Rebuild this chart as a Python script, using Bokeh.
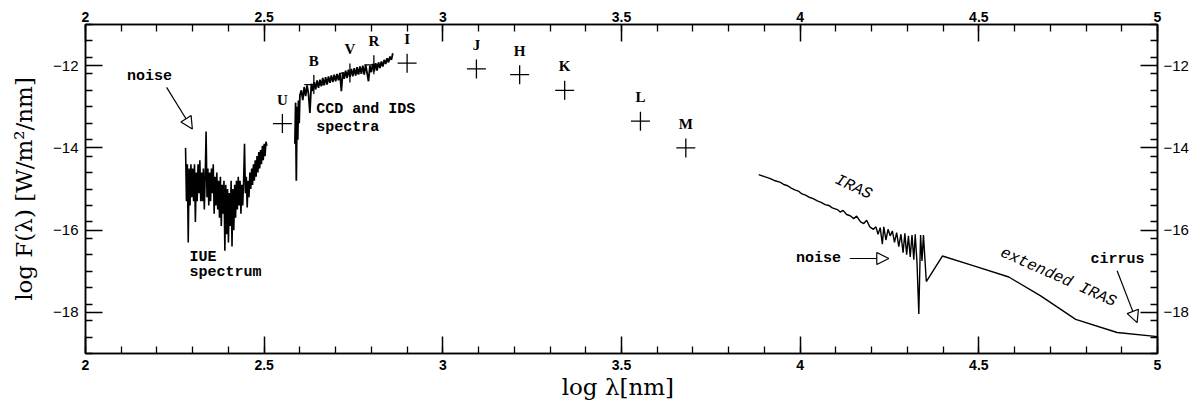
from bokeh.plotting import figure
from bokeh.models import (Range1d, LinearAxis, FixedTicker, CustomJSTickFormatter,
                          Arrow, NormalHead, ColumnDataSource)
from bokeh.core.properties import value
from bokeh.embed import file_html
from bokeh.resources import INLINE

# ---------------- data ----------------
band_names = ["U", "B", "V", "R", "I", "J", "H", "K", "L", "M"]
band_logl = [2.551, 2.639, 2.740, 2.807, 2.900, 3.094, 3.215, 3.341, 3.553, 3.680]
band_logf = [-13.41, -12.46, -12.18, -11.98, -11.94, -12.08, -12.22, -12.60, -13.35, -14.00]

iue_logl = [2.2800, 2.2825, 2.2850, 2.2875, 2.2900, 2.2925, 2.2950, 2.2975, 2.3000, 2.3025,
            2.3050, 2.3075, 2.3100, 2.3125, 2.3150, 2.3175, 2.3200, 2.3225, 2.3250, 2.3275,
            2.3300, 2.3325, 2.3350, 2.3375, 2.3400, 2.3425, 2.3450, 2.3475, 2.3500, 2.3525,
            2.3550, 2.3575, 2.3600, 2.3625, 2.3650, 2.3675, 2.3700, 2.3725, 2.3750, 2.3775,
            2.3800, 2.3825, 2.3850, 2.3875, 2.3900, 2.3925, 2.3950, 2.3975, 2.4000, 2.4025,
            2.4050, 2.4075, 2.4100, 2.4125, 2.4150, 2.4175, 2.4200, 2.4225, 2.4250, 2.4275,
            2.4300, 2.4325, 2.4350, 2.4375, 2.4400, 2.4425, 2.4450, 2.4475, 2.4500, 2.4525,
            2.4550, 2.4575, 2.4600, 2.4625, 2.4650, 2.4675, 2.4700, 2.4725, 2.4750, 2.4775,
            2.4800, 2.4825, 2.4850, 2.4875, 2.4900, 2.4925, 2.4950, 2.4975, 2.5000, 2.5025,
            2.5050, 2.5075]
iue_logf = [-14.0, -15.3, -14.4, -16.3, -14.5, -15.4, -14.4, -15.2, -14.5, -15.3,
            -14.4, -15.8, -14.6, -15.3, -14.4, -15.1, -14.3, -15.3, -14.6, -15.3,
            -14.5, -15.5, -14.7, -13.6, -15.2, -14.5, -15.4, -14.6, -15.3, -14.5,
            -15.1, -14.4, -15.6, -14.7, -15.4, -14.6, -15.5, -14.8, -15.7, -14.7,
            -15.9, -14.9, -15.6, -14.8, -16.5, -14.9, -16.1, -15.0, -16.3, -15.1,
            -15.9, -14.8, -16.4, -15.0, -16.0, -14.9, -15.7, -14.8, -15.5, -14.7,
            -15.4, -14.8, -15.6, -14.9, -15.4, -14.8, -13.9, -15.1, -14.7, -15.45,
            -14.8, -15.2, -14.6, -15.0, -14.5, -14.9, -14.4, -14.8, -14.3, -14.7,
            -14.2, -14.6, -14.1, -14.5, -14.05, -14.4, -13.95, -14.3, -13.9, -14.2,
            -13.85, -13.95]

ccd_logl = [2.586, 2.588, 2.590, 2.592, 2.594, 2.596, 2.598,
            2.600, 2.604, 2.608, 2.612, 2.616, 2.620, 2.624, 2.628, 2.632, 2.636,
            2.640, 2.644, 2.648, 2.652, 2.656, 2.660, 2.664, 2.668, 2.672, 2.676,
            2.680, 2.684, 2.688, 2.692, 2.696, 2.700, 2.704, 2.708, 2.712, 2.716,
            2.720, 2.724, 2.728, 2.732, 2.736, 2.740, 2.744, 2.748, 2.752, 2.756,
            2.760, 2.764, 2.768, 2.772, 2.776, 2.780, 2.784, 2.788, 2.792, 2.796,
            2.800, 2.804, 2.808, 2.812, 2.816, 2.820, 2.824, 2.828, 2.832, 2.836,
            2.840, 2.844, 2.848, 2.852, 2.856, 2.860]
ccd_logf = [-13.90, -12.90, -14.80, -13.00, -13.80, -12.85, -13.40,
            -12.72, -12.60, -12.84, -12.52, -12.74, -12.48, -12.68, -13.15, -12.44, -12.62,
            -12.40, -12.58, -12.36, -12.54, -12.34, -12.50, -12.30, -12.48, -12.28, -12.46,
            -12.26, -12.42, -12.24, -12.40, -12.22, -12.38, -12.20, -12.36, -12.18, -12.62,
            -12.16, -12.32, -12.12, -12.30, -12.10, -12.28, -12.08, -12.26, -12.06, -12.24,
            -12.04, -12.22, -12.02, -12.20, -12.00, -12.22, -11.98, -12.18, -12.38, -12.00,
            -12.16, -11.96, -12.14, -11.94, -12.12, -11.92, -12.06, -11.90, -12.02, -11.86,
            -11.96, -11.82, -11.92, -11.78, -11.86, -11.70]

iras_logl = [3.884, 3.900, 3.915, 3.930, 3.945, 3.954, 3.965, 3.975, 3.985, 3.995,
             4.005, 4.015, 4.025, 4.035, 4.048, 4.060, 4.070, 4.080, 4.090, 4.104,
             4.112, 4.120, 4.130, 4.140, 4.150, 4.158, 4.169, 4.178, 4.186, 4.195,
             4.205, 4.212, 4.218, 4.224, 4.230, 4.234, 4.240, 4.246, 4.252, 4.258,
             4.264, 4.270, 4.276, 4.282, 4.288, 4.293, 4.298, 4.303, 4.308, 4.313,
             4.318, 4.322, 4.327, 4.332, 4.337, 4.341, 4.345, 4.353]
iras_logf = [-14.65, -14.70, -14.74, -14.80, -14.84, -14.89, -14.92, -14.98, -15.02, -15.05,
             -15.12, -15.15, -15.20, -15.23, -15.29, -15.33, -15.38, -15.40, -15.46, -15.50,
             -15.56, -15.52, -15.62, -15.65, -15.72, -15.66, -15.80, -15.84, -15.76, -15.92,
             -15.98, -15.92, -16.10, -15.94, -16.34, -15.92, -16.24, -15.98, -16.14, -16.02,
             -16.30, -16.06, -16.40, -16.10, -16.55, -16.08, -16.60, -16.14, -16.65, -16.12,
             -16.72, -16.10, -16.80, -18.04, -16.12, -16.75, -16.12, -17.25]

ext_logl = [4.353, 4.398, 4.486, 4.584, 4.673, 4.771, 4.887, 5.000]
ext_logf = [-17.25, -16.63, -16.87, -17.14, -17.60, -18.17, -18.49, -18.59]

# annotations (data coordinates)
ann_text = ["noise", "IUE", "spectrum", "CCD and IDS", "spectra", "noise", "cirrus"]
ann_x = [2.179, 2.291, 2.291, 2.646, 2.646, 4.051, 4.888]
ann_y = [-12.26, -16.67, -17.04, -13.07, -13.50, -16.69, -16.71]
ann_align = ["center", "left", "left", "left", "left", "center", "center"]

rot_text = ["IRAS", "extended IRAS"]
rot_x = [4.149, 4.722]
rot_y = [-14.96, -17.15]
rot_angle = [-25, -24]

arrow_x0 = [2.227, 4.139, 4.887]
arrow_y0 = [-12.53, -16.69, -16.99]
arrow_x1 = [2.299, 4.248, 4.943]
arrow_y1 = [-13.54, -16.69, -18.25]

x_major = [2, 2.5, 3, 3.5, 4, 4.5, 5]
x_minor = [round(2 + 0.1 * i, 2) for i in range(31)]
y_major = [-18, -16, -14, -12]
y_minor = [round(-19 + 0.4 * i, 2) for i in range(21)]

# ---------------- figure ----------------
p = figure(width=1200, height=410, x_range=Range1d(2, 5), y_range=Range1d(-19, -11),
           output_backend="svg", toolbar_location=None,
           x_axis_location=None, y_axis_location=None,
           min_border_left=85, min_border_right=43, min_border_top=24, min_border_bottom=57)
p.xgrid.grid_line_color = None
p.ygrid.grid_line_color = None
p.outline_line_color = "black"
p.outline_line_width = 1.5
p.background_fill_color = "white"
p.border_fill_color = "white"

xfmt = CustomJSTickFormatter(code="return tick.toString();")
yfmt = CustomJSTickFormatter(code="return (tick < 0 ? '\u2212' : '') + Math.abs(tick).toString();")


def style(ax, xaxis):
    ax.ticker = FixedTicker(ticks=x_major if xaxis else y_major,
                            minor_ticks=x_minor if xaxis else y_minor)
    ax.formatter = xfmt if xaxis else yfmt
    ax.axis_line_color = "black"
    ax.axis_line_width = 1.5
    ax.major_tick_line_width = 1.5
    ax.minor_tick_line_width = 1.3
    ax.major_tick_in = 17
    ax.major_tick_out = 0
    ax.minor_tick_in = 7
    ax.minor_tick_out = 0
    ax.major_label_text_color = "black"
    ax.major_label_text_font = "Liberation Sans"
    if xaxis:
        ax.major_label_text_font_size = "14px"
        ax.major_label_text_font_style = "bold"
    else:
        ax.major_label_text_font_size = "15px"
    ax.axis_label_text_font = "DejaVu Serif"
    ax.axis_label_text_font_style = "normal"
    ax.axis_label_text_color = "black"
    ax.axis_label_text_font_size = "23px"


bottom = LinearAxis(axis_label="log  \u03bb[nm]")
style(bottom, True)
bottom.major_label_standoff = 6
bottom.axis_label_standoff = 1
top = LinearAxis()
style(top, True)
top.major_label_standoff = 3
left = LinearAxis(axis_label="log F(\u03bb) [W/m\u00b2/nm]")
style(left, False)
left.major_label_standoff = 7
left.axis_label_standoff = 13
right = LinearAxis()
style(right, False)
right.major_label_standoff = 6

p.add_layout(bottom, "below")
p.add_layout(top, "above")
p.add_layout(left, "left")
p.add_layout(right, "right")

# spectra
p.line(iue_logl, iue_logf, line_color="black", line_width=1.6)
p.line(ccd_logl, ccd_logf, line_color="black", line_width=1.8)
p.line(iras_logl + ext_logl, iras_logf + ext_logf, line_color="black", line_width=1.4)

# photometric bands
p.scatter(band_logl, band_logf, marker="cross", size=19, line_color="black", line_width=1.3)
p.text(band_logl, band_logf, text=band_names, y_offset=-24,
       text_align="center", text_baseline="middle",
       text_font=value("Liberation Serif"), text_font_style="bold",
       text_font_size="15px", text_color="black")

# annotations
ann_src = ColumnDataSource(dict(x=ann_x, y=ann_y, t=ann_text, a=ann_align))
p.text("x", "y", text="t", text_align="a", source=ann_src, text_baseline="middle",
       text_font=value("Liberation Mono"), text_font_style="bold",
       text_font_size="15px", text_color="black")
rot_src = ColumnDataSource(dict(x=rot_x, y=rot_y, t=rot_text, ang=rot_angle))
p.text("x", "y", text="t", angle="ang", angle_units="deg", source=rot_src,
       text_align="center", text_baseline="middle",
       text_font=value("Liberation Mono"), text_font_style="italic",
       text_font_size="16px", text_color="black")

for x0, y0, x1, y1 in zip(arrow_x0, arrow_y0, arrow_x1, arrow_y1):
    p.add_layout(Arrow(x_start=x0, y_start=y0, x_end=x1, y_end=y1,
                       line_color="black", line_width=1.2,
                       end=NormalHead(size=12, fill_color="white",
                                      line_color="black", line_width=1.2)))

open("out.html", "w").write(file_html(p, INLINE))
